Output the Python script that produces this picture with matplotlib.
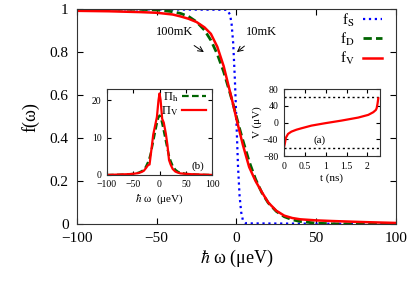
import numpy as np
import matplotlib
matplotlib.use('Agg')
import matplotlib.pyplot as plt

plt.rcParams['font.family'] = ['Liberation Serif', 'DejaVu Serif']
plt.rcParams['mathtext.fontset'] = 'stix'

# main panel: occupation functions
w_s = [-100, -6, -4, -3, -2, -1, 0, 1, 2, 3, 4, 6, 100]
f_s = [1.0, 0.997, 0.975, 0.93, 0.84, 0.68, 0.48, 0.27, 0.13, 0.055, 0.02, 0.003, 0.0]

w_main = [-100, -80, -60, -50, -40, -35, -30, -25, -20, -16, -12, -8, -4, -2, 0,
          2, 4, 8, 12, 16, 20, 25, 30, 35, 40, 50, 60, 80, 100]
f_d = [1.0, 1.0, 0.999, 0.996, 0.988, 0.98, 0.966, 0.941, 0.902, 0.855, 0.791, 0.709, 0.609,
       0.556, 0.5, 0.444, 0.391, 0.291, 0.209, 0.145, 0.098, 0.059, 0.034, 0.02, 0.012,
       0.004, 0.001, 0.0, 0.0]
f_v = [0.992, 0.99, 0.986, 0.983, 0.975, 0.966, 0.955, 0.94, 0.915, 0.885, 0.825, 0.735, 0.615,
       0.555, 0.49, 0.43, 0.37, 0.265, 0.2, 0.148, 0.1, 0.062, 0.039, 0.028, 0.022,
       0.017, 0.014, 0.009, 0.005]

# inset (b): distributions
w_b = [-100, -80, -60, -50, -40, -34, -30, -26, -22, -19, -16, -12, -8, -5, -2, 0,
       2, 5, 8, 12, 15, 18, 21, 25, 30, 35, 40, 50, 60, 80, 100]
pi_h = [0.0, 0.05, 0.15, 0.3, 0.6, 1.0, 1.4, 2.2, 3.4, 4.6, 6.2, 9.0, 11.8, 13.8, 15.5, 15.9,
        15.5, 13.8, 11.8, 9.0, 7.0, 5.1, 3.8, 2.4, 1.4, 0.85, 0.6, 0.3, 0.15, 0.05, 0.0]
pi_v = [0.0, 0.1, 0.2, 0.3, 0.5, 0.8, 1.1, 1.8, 2.6, 2.8, 6.2, 10.8, 13.5, 15.5, 20.0, 21.8,
        20.0, 15.0, 14.0, 11.0, 8.0, 4.0, 2.8, 1.6, 0.9, 0.6, 0.4, 0.3, 0.2, 0.1, 0.0]

# inset (a): voltage trace
t_a = [0.0, 0.02, 0.05, 0.1, 0.18, 0.3, 0.42, 0.66, 0.98, 1.38, 1.78, 2.02, 2.14, 2.2,
       2.22, 2.24, 2.26]
v_a = [-61, -52, -36, -27, -21.6, -17, -13.6, -7.2, -1.6, 4.8, 12, 18.4, 24.8, 30, 34, 44, 58]
v_lev = [-60, 60]

fig = plt.figure(figsize=(4.09, 2.94), dpi=100)
ax = fig.add_axes([0.188, 0.238, 0.780, 0.731])
ax.plot(w_s, f_s, color='#0000ff', ls=':', lw=1.6, label=r'f$_\mathrm{S}$')
ax.plot(w_main, f_d, color='#006400', ls=(0, (3, 1.5)), lw=2.0, label=r'f$_\mathrm{D}$')
ax.plot(w_main, f_v, color='#ff0000', lw=1.8, label=r'f$_\mathrm{V}$')
ax.set_xlim(-100, 100)
ax.set_ylim(0, 1)
ax.set_xticks([-100, -50, 0, 50, 100])
ax.set_yticks([0, 0.2, 0.4, 0.6, 0.8, 1])
ax.set_yticklabels(['0', '0.2', '0.4', '0.6', '0.8', '1'])
ax.tick_params(direction='in', top=True, right=True, labelsize=11, pad=6, length=4)
ax.set_xlabel(r'$\hbar$ ω (μeV)', fontsize=13, labelpad=2)
ax.set_ylabel('f(ω)', fontsize=13, labelpad=7)
ax.legend(loc='upper right', bbox_to_anchor=(0.965, 1.0), markerfirst=False,
          frameon=False, fontsize=11, handlelength=1.3, handletextpad=0.5,
          labelspacing=0.15, borderaxespad=0.0, borderpad=0.15)
ax.annotate('100mK', xy=(-20.4, 0.8), xytext=(-39, 0.893), fontsize=9,
            ha='center', va='center',
            arrowprops=dict(arrowstyle='->', color='black', lw=0.7, shrinkA=6, shrinkB=0))
ax.annotate('10mK', xy=(0.3, 0.8), xytext=(16, 0.893), fontsize=9,
            ha='center', va='center',
            arrowprops=dict(arrowstyle='->', color='black', lw=0.7, shrinkA=6, shrinkB=0))

# inset (b)
axb = fig.add_axes([0.2616, 0.405, 0.257, 0.2925])
axb.plot(w_b, pi_h, color='#006400', ls=(0, (3, 1.5)), lw=1.6, label=r'Π$_\mathrm{h}$')
axb.plot(w_b, pi_v, color='#ff0000', lw=1.6, label=r'Π$_\mathrm{V}$')
axb.set_xlim(-100, 100)
axb.set_ylim(0, 23)
axb.set_xticks([-100, -50, 0, 50, 100])
axb.set_yticks([0, 10, 20])
axb.tick_params(direction='in', top=True, right=True, labelsize=7, pad=4, length=3)
axb.set_xlabel(r'$\hbar$ ω  (μeV)', fontsize=8, labelpad=2)
axb.legend(loc='upper right', bbox_to_anchor=(0.95, 1.0), markerfirst=False,
           frameon=False, fontsize=9, handlelength=1.9, handletextpad=0.3,
           labelspacing=0.05, borderaxespad=0.0, borderpad=0.1)
axb.text(73, 2.4, '(b)', fontsize=8, ha='center', va='center')

# inset (a)
axa = fig.add_axes([0.694, 0.469, 0.235, 0.228])
for v in v_lev:
    axa.axhline(v, color='black', ls=(0, (1.5, 2)), lw=1.0)
axa.plot(t_a, v_a, color='#ff0000', lw=1.6)
axa.set_xlim(0, 2.3)
axa.set_ylim(-80, 80)
axa.set_xticks([0, 0.5, 1, 1.5, 2])
axa.set_xticklabels(['0', '0.5', '1', '1.5', '2'])
axa.set_yticks([-80, -40, 0, 40, 80])
axa.tick_params(direction='in', top=True, right=True, labelsize=7, pad=4, length=3)
axa.set_xlabel('t (ns)', fontsize=8, labelpad=2)
axa.set_ylabel('V (μV)', fontsize=8, labelpad=1)
axa.text(0.86, -41, '(a)', fontsize=8, ha='center', va='center')

for a in (ax, axb, axa):
    for s in a.spines.values():
        s.set_linewidth(0.8)
        s.set_color('#333333')

fig.savefig('out.png', dpi=100)
